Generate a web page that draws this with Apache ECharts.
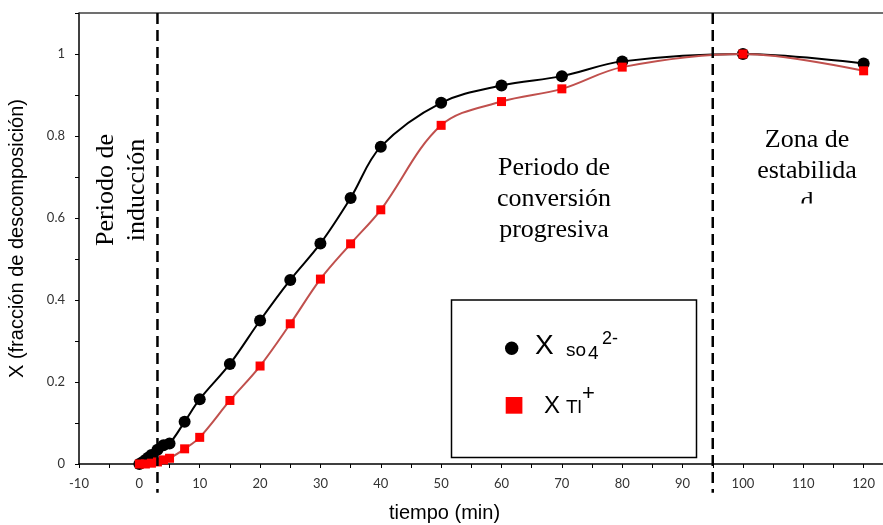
<!DOCTYPE html>
<html><head><meta charset="utf-8">
<script src="https://cdn.jsdelivr.net/npm/echarts@6/dist/echarts.min.js"></script>
<style>html,body{margin:0;padding:0;background:#fff}#c{width:883px;height:525px}</style>
</head><body><div id="c"></div>
<script>
// Data
const timeSO4 = [0, 0.5, 1, 1.5, 2, 3, 4, 5, 7.5, 10, 15, 20, 25, 30, 35, 40, 50, 60, 70, 80, 100, 120];
const xSO4    = [0, 0.004, 0.01, 0.016, 0.022, 0.035, 0.046, 0.05, 0.103, 0.158, 0.244, 0.35, 0.449, 0.538, 0.649, 0.774, 0.881, 0.923, 0.946, 0.982, 1.0, 0.977];
const timeTl  = [0, 1, 2, 3, 4, 5, 7.5, 10, 15, 20, 25, 30, 35, 40, 50, 60, 70, 80, 100, 120];
const xTl     = [0, 0, 0.002, 0.005, 0.01, 0.014, 0.037, 0.065, 0.155, 0.239, 0.342, 0.451, 0.537, 0.62, 0.826, 0.884, 0.915, 0.968, 1.0, 0.959];
const phaseBoundaries = [3, 95];
const xTitle = 'tiempo (min)';
const yTitle = 'X (fracción de descomposición)';

const chart = echarts.init(document.getElementById('c'), null, {renderer: 'canvas'});
const pairs = (a, b) => a.map((v, i) => [v, b[i]]);
const labelFont = {fontFamily: 'Lato', fontSize: 13, color: '#333'};

chart.setOption({
  animation: false,
  backgroundColor: '#fff',
  grid: {left: 79, top: 13, bottom: 61, right: -41, containLabel: false, outerBoundsMode: 'none'},
  xAxis: {
    type: 'value', min: -10, max: 130, interval: 10,
    axisLine: {onZero: false, lineStyle: {color: '#000', width: 1.5}},
    axisTick: {show: true, length: 4, lineStyle: {color: '#000', width: 1}},
    minorTick: {show: true, splitNumber: 2, length: 4, lineStyle: {color: '#000', width: 1}},
    splitLine: {show: false},
    axisLabel: Object.assign({margin: 13}, labelFont)
  },
  yAxis: {
    type: 'value', min: 0, max: 1.1, interval: 0.2,
    axisLine: {show: true, onZero: false, lineStyle: {color: '#000', width: 1.5}},
    axisTick: {show: true, length: 4, lineStyle: {color: '#000', width: 1}},
    minorTick: {show: true, splitNumber: 2, length: 4, lineStyle: {color: '#000', width: 1}},
    splitLine: {show: false},
    axisLabel: Object.assign({margin: 14, showMaxLabel: false}, labelFont),
    name: yTitle, nameLocation: 'middle', nameGap: 52,
    nameTextStyle: {fontFamily: 'Liberation Sans', fontSize: 20, color: '#000'}
  },
  series: [
    {
      type: 'line', name: 'SO4', data: pairs(timeSO4, xSO4), smooth: 0.35,
      symbol: 'circle', symbolSize: 12,
      lineStyle: {color: '#000', width: 2},
      itemStyle: {color: '#000'}, z: 3
    },
    {
      type: 'line', name: 'Tl', data: pairs(timeTl, xTl), smooth: 0.35,
      symbol: 'rect', symbolSize: 9,
      lineStyle: {color: '#c0504d', width: 2},
      itemStyle: {color: '#ff0000'}, z: 4
    }
  ]
});

function drawGraphics() {
  const yTop = chart.convertToPixel({yAxisIndex: 0}, 1.1);
  const yLow = chart.convertToPixel({yAxisIndex: 0}, -0.07);
  const xLeft = chart.convertToPixel({xAxisIndex: 0}, -10);
  const els = [];
  // top border
  els.push({type: 'line', shape: {x1: xLeft, y1: yTop, x2: 883, y2: yTop},
            style: {stroke: '#404040', lineWidth: 1.5}, z: 10});
  phaseBoundaries.forEach(t => {
    const px = chart.convertToPixel({xAxisIndex: 0}, t);
    els.push({type: 'line', shape: {x1: px, y1: yTop, x2: px, y2: yLow},
              style: {stroke: '#000', lineWidth: 2.5, lineDash: [11, 6]}, z: 10});
  });
  // x axis title
  els.push({type: 'text', x: 444.5, y: 513, z: 11,
            style: {text: xTitle, fontFamily: 'Liberation Sans', fontSize: 20, fill: '#000', align: 'center', verticalAlign: 'middle'}});
  const serif = {fontFamily: 'Liberation Serif', fontSize: 26, lineHeight: 31, fill: '#000', align: 'center', verticalAlign: 'middle'};
  els.push({type: 'text', x: 122, y: 190, rotation: Math.PI / 2,
            style: Object.assign({text: 'Periodo de\ninducción'}, serif), z: 11});
  els.push({type: 'text', x: 554, y: 199,
            style: Object.assign({text: 'Periodo de\nconversión\nprogresiva'}, serif), z: 11});
  els.push({type: 'text', x: 807, y: 171,
            style: Object.assign({text: 'Zona de\nestabilida\nd'}, serif), z: 11});
  els.push({type: 'rect', shape: {x: 780, y: 203.5, width: 60, height: 14}, style: {fill: '#fff'}, z: 12});
  // legend box
  els.push({type: 'rect', shape: {x: 451.5, y: 300, width: 245, height: 157.5},
            style: {fill: '#fff', stroke: '#000', lineWidth: 1.5}, z: 12});
  els.push({type: 'circle', shape: {cx: 511.7, cy: 348.3, r: 6.7}, style: {fill: '#000'}, z: 13});
  els.push({type: 'rect', shape: {x: 505.7, y: 397, width: 16.7, height: 16.7}, style: {fill: '#ff0000'}, z: 13});
  const sans = (t, x, y, s) => ({type: 'text', x: x, y: y, z: 13,
    style: {text: t, fontFamily: 'Liberation Sans', fontSize: s, fill: '#000', align: 'left', verticalAlign: 'middle'}});
  els.push(sans('X', 535, 346, 28));
  els.push(sans('so', 566, 351, 19));
  els.push(sans('4', 588, 354, 19));
  els.push(sans('2-', 602, 339, 18));
  els.push(sans('X', 544, 406, 24));
  els.push(sans('Tl', 566, 408, 19));
  els.push(sans('+', 582, 394, 22));
  chart.setOption({graphic: els});
}
drawGraphics();
</script>
</body></html>
